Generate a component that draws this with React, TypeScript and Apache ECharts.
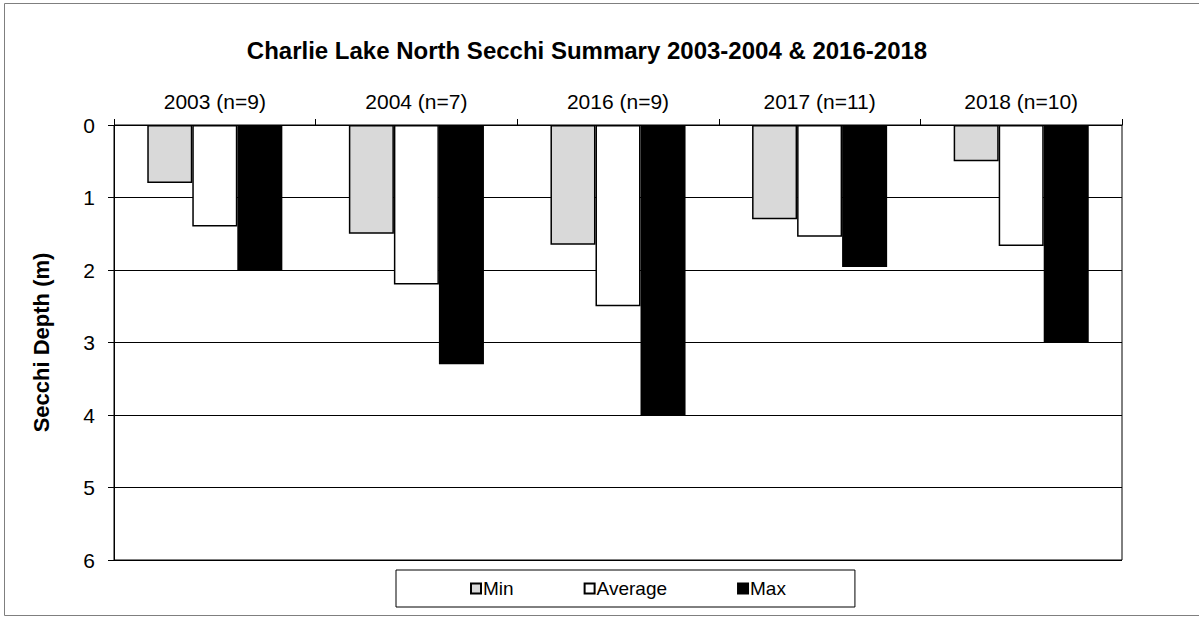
import React, { useEffect, useRef } from "react";
import * as echarts from "echarts";

const categories = ["2003 (n=9)", "2004 (n=7)", "2016 (n=9)", "2017 (n=11)", "2018 (n=10)"];
const minValues = [0.8, 1.5, 1.65, 1.3, 0.5];
const averageValues = [1.4, 2.2, 2.5, 1.54, 1.67];
const maxValues = [2.0, 3.3, 4.0, 1.96, 3.0];
const seriesNames = ["Min", "Average", "Max"];
const seriesColors = ["#d9d9d9", "#ffffff", "#000000"];
const titleText = "Charlie Lake North Secchi Summary 2003-2004 & 2016-2018";
const yAxisName = "Secchi Depth (m)";

const FONT = "'Liberation Sans', Arial, sans-serif";

export default function App() {
  const ref = useRef<HTMLDivElement>(null);
  useEffect(() => {
    if (!ref.current) return;
    const chart = echarts.init(ref.current, undefined, { renderer: "svg" });
    const data = [minValues, averageValues, maxValues];
    chart.setOption({
      animation: false,
      backgroundColor: "#ffffff",
      textStyle: { fontFamily: FONT },
      title: {
        text: titleText,
        left: 582,
        textAlign: "center",
        top: 33,
        textStyle: { fontFamily: FONT, fontSize: 24, fontWeight: "bold", color: "#000" },
      },
      graphic: [
        {
          type: "rect",
          shape: { x: 4.5, y: 3.5, width: 1210, height: 612 },
          style: { fill: "none", stroke: "#7f7f7f", lineWidth: 1 },
          silent: true,
          z: -10,
        },
      ],
      legend: {
        left: 396,
        top: 570,
        padding: [9, 69, 9, 74],
        itemGap: 70,
        itemWidth: 10,
        itemHeight: 10,
        icon: "rect",
        borderColor: "#000",
        borderWidth: 1,
        textStyle: { fontFamily: FONT, fontSize: 19, color: "#000", padding: [0, 0, 0, -3] },
        data: seriesNames,
      },
      grid: {
        left: 114,
        top: 125,
        width: 1008,
        height: 435,
        show: true,
        borderColor: "#000",
        borderWidth: 1,
        backgroundColor: "transparent",
      },
      xAxis: {
        type: "category",
        position: "top",
        data: categories,
        axisLine: { show: true, lineStyle: { color: "#000", width: 1 } },
        axisTick: { show: true, length: 6, inside: false, lineStyle: { color: "#000" } },
        axisLabel: { fontFamily: FONT, fontSize: 21, color: "#000", margin: 13 },
        splitLine: { show: false },
      },
      yAxis: {
        type: "value",
        inverse: true,
        min: 0,
        max: 6,
        interval: 1,
        name: yAxisName,
        nameLocation: "middle",
        nameRotate: 90,
        nameGap: 62,
        nameTextStyle: { fontFamily: FONT, fontSize: 22, fontWeight: "bold", color: "#000" },
        axisLine: { show: true, lineStyle: { color: "#000", width: 1 } },
        axisTick: { show: true, length: 6, lineStyle: { color: "#000" } },
        axisLabel: { fontFamily: FONT, fontSize: 21, color: "#000", margin: 19 },
        splitLine: { show: true, lineStyle: { color: "#000", width: 1 } },
      },
      series: seriesNames.map((name, i) => ({
        name,
        type: "bar",
        data: data[i],
        barGap: "0%",
        barCategoryGap: "33%",
        itemStyle: { color: seriesColors[i], borderColor: "#000", borderWidth: 1.5 },
      })),
    });
    return () => chart.dispose();
  }, []);
  return (
    <div
      ref={ref}
      style={{ position: "fixed", left: 0, top: 0, width: 1199, height: 617 }}
    />
  );
}
